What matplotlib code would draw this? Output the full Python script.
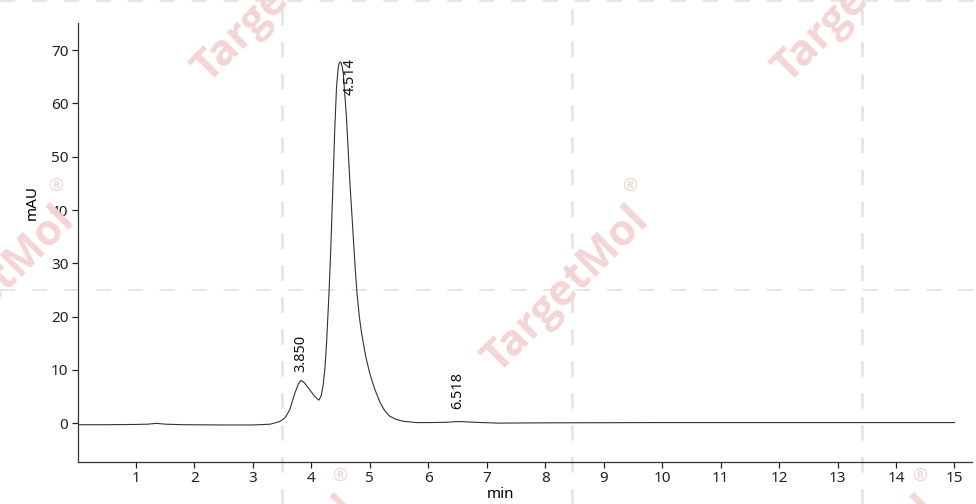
import matplotlib.pyplot as plt
from matplotlib.lines import Line2D

plt.rcParams['font.family'] = ['Noto Sans', 'DejaVu Sans']
plt.rcParams['lines.scale_dashes'] = False

# chromatogram trace (min, mAU)
time_min = [0.0, 0.5, 1.0, 1.2, 1.35, 1.5, 1.8, 2.5, 3.0, 3.3, 3.46, 3.55, 3.63,
            3.72, 3.78, 3.82, 3.87, 3.97, 4.05, 4.13, 4.17, 4.20, 4.23, 4.26, 4.30,
            4.33, 4.37, 4.40, 4.43, 4.46, 4.475, 4.49, 4.51, 4.525, 4.545, 4.60, 4.66,
            4.715, 4.75, 4.78, 4.82, 4.86, 4.93, 5.00, 5.08, 5.17, 5.25, 5.34, 5.45, 5.57,
            5.80, 6.0, 6.3, 6.52, 6.8, 7.2, 8.0, 10.0, 12.0, 15.0]
signal_mau = [-0.3, -0.3, -0.25, -0.2, -0.05, -0.2, -0.3, -0.35, -0.35, -0.2, 0.3, 1.0, 2.5,
              5.7, 7.4, 8.0, 7.7, 6.3, 5.1, 4.3, 5.2, 7.0, 10.0, 15.0, 24.0,
              32.0, 45.0, 55.0, 63.0, 66.8, 67.5, 67.8, 67.6, 67.0, 65.8, 57.5, 45.0,
              35.3, 29.0, 24.5, 20.0, 16.8, 12.5, 9.3, 6.5, 4.0, 2.4, 1.3, 0.7, 0.35,
              0.1, 0.1, 0.15, 0.3, 0.15, 0.0, 0.05, 0.1, 0.1, 0.1]

peak_labels = ['3.850', '4.514', '6.518']
x_ticks = list(range(1, 16))
y_ticks = [0, 10, 20, 30, 40, 50, 60, 70]

W, H = 976, 504
fig = plt.figure(figsize=(W / 100, H / 100), dpi=100)
ax = fig.add_axes([77.5 / W, 42 / H, (972 - 77.5) / W, (462 - 23) / H])

# watermark grid (dashed) and logo text
wm_grey = '#e6e6e6'
wm_pink = '#f4d4d4'
for px in [282, 572, 862]:
    fig.add_artist(Line2D([px / W, px / W], [0, 1], transform=fig.transFigure, color=wm_grey,
                          lw=2.2, linestyle=(0, (11, 12)), zorder=0))
for py in [1, 290]:
    fig.add_artist(Line2D([0, 1], [1 - py / H, 1 - py / H], transform=fig.transFigure,
                          color=wm_grey, lw=1.4, linestyle=(0, (11, 12)), zorder=0))
for cx, cy in [(276, 0), (856, 0), (-8, 290), (566, 290), (276, 580), (856, 580)]:
    fig.text(cx / W, 1 - cy / H, 'TargetMol', color=wm_pink, fontsize=31, fontweight='bold',
             family='Open Sans', rotation=45, ha='center', va='center', zorder=0)
    fig.text((cx + 64) / W, 1 - (cy - 104) / H, '®', color=wm_pink, fontsize=13,
             ha='center', va='center', zorder=0)

ax.patch.set_alpha(0)
ax.plot(time_min, signal_mau, color='#333333', lw=0.8)

# peak retention time labels
label_pos = [(3.82, 9.6), (4.66, 61.6), (6.50, 2.7)]
for txt, (lx, ly) in zip(peak_labels, label_pos):
    ax.text(lx, ly, txt, rotation=90, ha='center', va='bottom', fontsize=10.5, color='#111111')

ax.set_xlim(0, 15.3)
ax.set_ylim(-7.3, 75.1)
ax.set_xticks(x_ticks)
ax.set_yticks(y_ticks)
ax.tick_params(labelsize=11, length=4.5, width=0.9, pad=2, colors='#222222')
for side in ['top', 'right']:
    ax.spines[side].set_visible(False)
for side in ['left', 'bottom']:
    ax.spines[side].set_color('#333333')
    ax.spines[side].set_linewidth(0.9)

ax.set_xlabel('min', fontsize=11)
ax.set_ylabel('mAU', fontsize=11)
ax.xaxis.set_label_coords(0.473, -0.057)
ax.yaxis.set_label_coords(-0.042, 0.59)

fig.savefig('out.png', dpi=100)
